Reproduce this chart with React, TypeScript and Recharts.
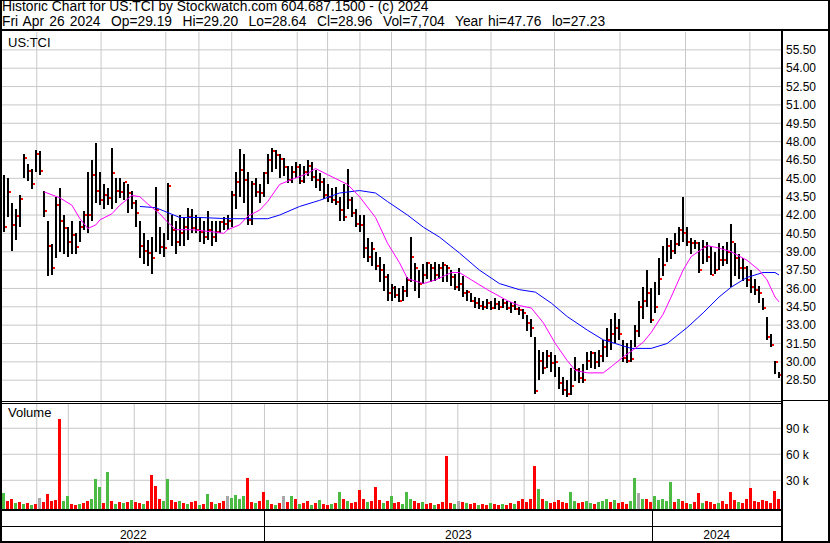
import React from 'react';
import { ComposedChart, Bar, Line, XAxis, YAxis, CartesianGrid } from 'recharts';

const FONT = '"Liberation Sans", Arial, Helvetica, sans-serif';

// ---- price bars (one bar per ~2.6 trading days, late Apr 2022 .. Apr 26 2024)
const hi = [
  45.3, 45.0, 43.0, 42.5, 43.6, 47.0, 46.2, 45.8, 47.3, 47.2,
  44.0, 41.5, 39.6, 43.5, 44.2, 42.0, 41.0, 41.5, 40.5, 41.5,
  42.3, 45.5, 46.5, 47.9, 45.5, 44.5, 44.2, 47.5, 45.0, 45.0,
  44.7, 44.5, 44.0, 43.2, 41.5, 40.5, 40.0, 40.2, 44.3, 41.0,
  40.5, 44.6, 42.0, 41.5, 42.0, 41.8, 42.6, 42.5, 42.0, 41.8,
  41.5, 42.3, 41.5, 41.5, 41.5, 41.8, 42.0, 44.0, 45.5, 47.4,
  47.0, 45.5, 44.8, 45.0, 44.5, 45.5, 47.0, 47.5, 47.3, 47.0,
  46.7, 46.0, 46.0, 46.3, 46.2, 46.0, 46.5, 46.3, 45.7, 45.4,
  45.0, 44.5, 44.2, 44.3, 43.5, 44.5, 45.8, 43.5, 42.5, 42.0,
  42.0, 40.1, 39.8, 39.0, 38.6, 38.0, 37.2, 36.4, 36.2, 36.0,
  36.2, 36.9, 40.2, 38.1, 37.5, 38.0, 38.2, 38.0, 38.2, 38.0,
  38.2, 37.9, 37.5, 37.2, 37.7, 37.0, 35.9, 35.6, 35.3, 35.2,
  35.0, 35.1, 35.0, 35.2, 35.0, 35.1, 35.0, 34.9, 35.0, 34.5,
  34.3, 33.8, 33.5, 32.0, 31.0, 30.8, 31.0, 30.8, 30.6, 29.6,
  28.8, 28.5, 29.5, 30.4, 29.5, 29.8, 30.8, 30.9, 30.8, 31.0,
  31.8, 32.8, 33.5, 34.0, 33.5, 31.8, 31.5, 31.8, 33.0, 35.0,
  36.1, 37.5, 36.0, 36.5, 38.5, 39.5, 40.1, 40.0, 40.5, 41.0,
  43.5, 41.0, 40.1, 40.0, 39.8, 40.0, 39.8, 39.5, 39.0, 39.7,
  39.5, 39.8, 41.3, 39.7, 38.8, 38.5, 37.8, 37.5, 36.8, 36.2,
  35.2, 33.7, 32.3, 30.1, 29.2,
];
const lo = [
  40.6, 41.8, 39.1, 40.0, 41.0, 45.0, 44.8, 44.1, 45.5, 45.3,
  41.8, 37.0, 37.1, 38.5, 39.0, 38.8, 38.6, 38.8, 38.8, 39.8,
  40.8, 40.5, 41.5, 43.0, 42.8, 42.5, 42.8, 42.5, 43.0, 43.4,
  43.2, 42.2, 42.5, 41.0, 38.5, 38.0, 37.8, 37.2, 39.0, 38.8,
  38.6, 40.0, 39.5, 38.8, 39.5, 39.5, 40.0, 40.5, 40.5, 39.8,
  39.6, 40.0, 39.5, 39.8, 40.5, 40.8, 40.8, 41.0, 42.5, 43.5,
  43.0, 41.2, 41.2, 43.5, 43.0, 43.5, 44.5, 45.5, 45.8, 45.0,
  45.2, 44.6, 44.6, 45.0, 44.5, 44.6, 45.2, 44.8, 44.2, 44.0,
  43.3, 43.1, 43.0, 42.8, 41.5, 41.5, 42.5, 41.8, 41.0, 40.6,
  38.5, 38.2, 37.8, 37.5, 36.5, 35.8, 35.0, 35.0, 35.2, 34.9,
  35.0, 35.3, 36.5, 35.8, 35.2, 36.4, 36.8, 36.5, 36.6, 36.8,
  36.5, 36.5, 36.2, 35.9, 35.8, 35.3, 35.0, 34.9, 34.4, 34.3,
  34.2, 34.3, 34.2, 34.3, 34.2, 34.4, 34.2, 34.0, 34.2, 33.8,
  33.5, 32.5, 32.0, 27.4, 28.5, 29.0, 29.5, 29.2, 28.8, 27.8,
  27.3, 27.1, 27.3, 28.4, 28.3, 28.3, 29.3, 29.5, 29.4, 29.6,
  30.0, 30.4, 31.0, 31.5, 31.8, 30.0, 29.9, 30.0, 31.2, 32.0,
  33.5, 34.5, 33.2, 34.0, 35.5, 37.0, 38.2, 38.4, 38.8, 39.5,
  39.8, 39.5, 38.8, 39.2, 37.3, 38.0, 38.2, 37.1, 37.2, 37.5,
  37.8, 38.0, 36.1, 37.0, 36.8, 36.6, 36.1, 35.6, 35.5, 34.8,
  34.2, 31.8, 31.2, 29.0, 28.64,
];
const cl = [
  41.0, 43.9, 41.2, 41.9, 43.3, 46.7, 45.6, 44.5, 47.0, 45.6,
  42.3, 39.5, 37.7, 42.8, 41.5, 40.9, 39.8, 40.4, 39.4, 41.0,
  42.0, 42.0, 45.3, 44.0, 43.2, 43.6, 43.4, 45.4, 44.0, 43.9,
  44.7, 43.8, 43.0, 42.2, 39.5, 39.1, 38.9, 38.5, 42.4, 39.4,
  39.3, 44.4, 40.8, 39.8, 40.5, 41.0, 41.8, 40.9, 40.8, 40.6,
  40.2, 40.8, 40.2, 40.6, 41.4, 41.3, 41.5, 43.6, 44.7, 45.7,
  44.9, 41.6, 44.5, 43.9, 43.8, 45.4, 46.5, 47.2, 46.9, 46.6,
  45.9, 44.9, 45.5, 45.9, 44.8, 45.5, 46.0, 45.1, 44.9, 44.7,
  43.6, 43.5, 43.2, 43.1, 42.4, 41.8, 43.2, 42.2, 41.3, 41.2,
  39.3, 38.6, 39.2, 37.8, 37.5, 36.9, 35.6, 36.0, 35.5, 35.0,
  35.8, 36.7, 38.6, 37.7, 36.4, 37.1, 38.1, 37.7, 37.1, 37.7,
  37.9, 37.7, 36.9, 36.1, 36.4, 35.6, 35.7, 35.0, 34.8, 34.6,
  34.5, 34.8, 34.4, 34.7, 34.5, 34.8, 34.4, 34.6, 34.3, 34.2,
  34.0, 33.2, 32.8, 27.6, 30.1, 29.5, 30.5, 29.9, 30.0, 28.3,
  27.7, 27.4, 28.0, 29.3, 28.7, 28.5, 30.1, 30.7, 30.0, 30.5,
  31.2, 31.8, 32.3, 32.8, 32.3, 30.3, 30.1, 30.2, 32.5, 34.5,
  35.0, 35.6, 33.4, 34.5, 36.8, 37.9, 39.5, 39.1, 39.6, 40.8,
  40.5, 39.8, 39.7, 39.7, 37.5, 39.4, 38.6, 37.1, 37.5, 38.3,
  38.3, 39.0, 39.8, 38.5, 37.7, 37.7, 36.7, 36.1, 35.9, 35.6,
  34.4, 32.0, 31.4, 30.0, 28.96,
];

// ---- moving averages (bar index -> value)
const ma20Idx = [10, 14, 17, 19, 21, 23, 24, 27, 29, 32, 34, 36, 39, 41, 43, 47, 53, 55, 56, 59, 61, 64, 66, 69, 72, 76, 78, 81, 86, 89, 93, 96, 99, 101, 105, 108, 112, 114, 117, 121, 126, 129, 132, 135, 138, 141, 143, 146, 150, 152, 155, 158, 160, 162, 165, 167, 170, 172, 176, 179, 182, 186, 189, 191, 193, 194];
const ma20Val = [43.9, 43.4, 42.8, 41.7, 40.9, 41.2, 41.6, 42.1, 42.8, 43.6, 43.5, 42.9, 42.1, 41.4, 40.8, 40.8, 40.6, 40.5, 40.8, 41.2, 41.9, 42.4, 43.1, 44.5, 44.9, 45.4, 45.8, 45.3, 44.5, 43.5, 41.8, 39.7, 38.1, 36.8, 36.4, 36.7, 37.3, 37.3, 36.7, 35.9, 35.0, 34.6, 34.4, 33.2, 31.5, 30.1, 29.3, 29.1, 29.1, 29.6, 30.4, 31.1, 31.6, 32.4, 33.9, 35.3, 37.5, 38.6, 39.5, 39.3, 39.0, 38.3, 37.5, 36.7, 35.3, 34.9];
const ma50Idx = [34, 38, 41, 44, 49, 56, 66, 69, 74, 79, 84, 89, 93, 96, 101, 105, 109, 114, 119, 124, 129, 133, 137, 141, 146, 150, 154, 157, 162, 166, 171, 175, 179, 182, 186, 190, 193, 194];
const ma50Val = [42.7, 42.6, 42.2, 41.8, 41.8, 41.7, 41.7, 42.0, 42.7, 43.2, 43.8, 44.0, 43.8, 43.1, 42.0, 41.0, 40.2, 38.9, 37.5, 36.4, 35.9, 35.7, 34.8, 33.7, 32.6, 31.8, 31.4, 31.1, 31.1, 31.5, 32.8, 34.0, 35.3, 36.1, 36.9, 37.3, 37.3, 37.1];

// ---- volume (thousands) and colour code: r = down, g = up, n = unchanged
const volK = [
  15, 6, 8, 4, 5, 3, 4, 2, 3, 10, 5, 14, 6, 7, 101, 6, 12, 3, 2, 3,
  4, 6, 8, 32, 22, 4, 39, 6, 3, 5, 4, 5, 7, 5, 4, 3, 6, 36, 23, 9,
  6, 32, 7, 5, 6, 4, 3, 5, 6, 2, 3, 14, 5, 3, 4, 6, 12, 10, 13, 9,
  12, 33, 5, 4, 6, 17, 7, 3, 2, 4, 12, 5, 12, 8, 3, 4, 6, 2, 4, 7,
  3, 2, 3, 4, 16, 8, 6, 4, 5, 19, 8, 5, 6, 22, 7, 4, 6, 12, 4, 5,
  3, 16, 9, 6, 4, 5, 3, 4, 2, 3, 5, 58, 4, 3, 6, 5, 4, 3, 4, 2,
  3, 2, 4, 3, 2, 3, 2, 4, 3, 6, 9, 5, 8, 47, 20, 8, 6, 4, 5, 7,
  5, 4, 17, 6, 4, 5, 6, 4, 3, 5, 6, 8, 5, 7, 4, 5, 3, 6, 33, 15,
  8, 9, 5, 12, 7, 9, 6, 28, 5, 8, 6, 4, 3, 5, 15, 4, 6, 5, 3, 4,
  6, 3, 16, 7, 5, 4, 8, 21, 6, 5, 7, 6, 4, 18, 8,
];
const volDir = [
  'g', 'r', 'r', 'g', 'r', 'g', 'r', 'g', 'r', 'n', 'r', 'r', 'r', 'r', 'r', 'g', 'g', 'r', 'r', 'g',
  'r', 'r', 'g', 'g', 'g', 'r', 'g', 'r', 'g', 'r', 'g', 'r', 'g', 'r', 'r', 'g', 'r', 'r', 'r', 'r',
  'g', 'g', 'r', 'r', 'g', 'r', 'g', 'r', 'r', 'g', 'r', 'g', 'r', 'g', 'r', 'r', 'n', 'g', 'g', 'g',
  'g', 'r', 'r', 'g', 'r', 'r', 'g', 'r', 'g', 'r', 'n', 'r', 'g', 'r', 'g', 'r', 'r', 'g', 'r', 'g',
  'r', 'r', 'g', 'r', 'g', 'r', 'g', 'r', 'r', 'r', 'r', 'g', 'r', 'r', 'r', 'g', 'r', 'g', 'r', 'r',
  'g', 'g', 'g', 'r', 'r', 'g', 'r', 'r', 'g', 'r', 'r', 'r', 'r', 'g', 'n', 'r', 'g', 'r', 'r', 'g',
  'r', 'r', 'g', 'r', 'r', 'g', 'r', 'r', 'g', 'r', 'r', 'r', 'r', 'r', 'g', 'r', 'g', 'r', 'r', 'r',
  'r', 'r', 'g', 'g', 'r', 'r', 'g', 'g', 'r', 'g', 'g', 'g', 'r', 'g', 'r', 'r', 'r', 'g', 'g', 'n',
  'g', 'r', 'r', 'g', 'g', 'g', 'g', 'g', 'r', 'g', 'r', 'r', 'g', 'r', 'r', 'g', 'r', 'r', 'r', 'g',
  'r', 'r', 'r', 'r', 'g', 'r', 'r', 'r', 'r', 'r', 'r', 'r', 'r', 'r', 'r',
];

// ---- axes
const priceTicks = [28.5, 30, 31.5, 33, 34.5, 36, 37.5, 39, 40.5, 42, 43.5, 45, 46.5, 48, 49.5, 51, 52.5, 54, 55.5];
const volTicks = [30000, 60000, 90000];
const monthStarts = [8.2, 16.1, 24.3, 32.6, 40.5, 48.8, 57.0, 65.2, 73.4, 81.0, 89.1, 97.0, 105.6, 113.6, 121.9, 130.2, 137.8, 146.3, 154.2, 162.3, 170.6, 178.8, 186.7];
const yearLabels = ['2022', '2023', '2024'];
const yearBounds = [65.2, 162.3];
const X_DOMAIN: [number, number] = [-0.5, hi.length - 0.5];
const yearEdges = [X_DOMAIN[0], ...yearBounds, X_DOMAIN[1]];
const yearMids = yearLabels.map((_, k) => (yearEdges[k] + yearEdges[k + 1]) / 2);

const VOL_COLORS: Record<string, string> = { r: '#ff0000', g: '#4cbb44', n: '#a8a8a8' };

type Row = { i: number; hl: [number, number]; c: number; v: number; vc: string; ma20?: number; ma50?: number };
const rows: Row[] = hi.map((h, i) => ({ i, hl: [lo[i], h], c: cl[i], v: volK[i] * 1000, vc: volDir[i] }));
ma20Idx.forEach((k, j) => { rows[k].ma20 = ma20Val[j]; });
ma50Idx.forEach((k, j) => { rows[k].ma50 = ma50Val[j]; });

function PriceBar(props: any) {
  const { x, y, width, height, payload } = props;
  if (x == null || y == null || !payload) return null;
  const top = Math.min(y, y + height);
  const h = Math.max(Math.abs(height), 1);
  const [l, hh] = payload.hl;
  const cy = hh === l ? top : top + ((hh - payload.c) / (hh - l)) * h;
  const rx = Math.round(x);
  const rt = Math.round(top);
  const rw = Math.max(Math.round(width), 1);
  return (
    <g shapeRendering="crispEdges">
      <rect x={rx} y={rt} width={rw} height={Math.max(Math.round(top + h) - rt, 1)} fill="#000" />
      <rect x={rx + rw} y={Math.round(cy) - 1} width={2} height={2} fill="#ff0000" />
    </g>
  );
}

function VolBar(props: any) {
  const { x, y, width, height, payload, background } = props;
  if (x == null || y == null || !payload) return null;
  const top = Math.round(Math.min(y, y + height));
  const bottom = background && background.height ? background.y + background.height : Math.max(y, y + height);
  return (
    <rect
      shapeRendering="crispEdges"
      x={Math.round(x)}
      y={top}
      width={Math.max(Math.round(width), 1)}
      height={Math.max(Math.round(bottom) - top, 0)}
      fill={VOL_COLORS[payload.vc]}
    />
  );
}

function YearTick(props: any) {
  const { x, y, payload } = props;
  const v = payload.value;
  if (yearBounds.indexOf(v) >= 0) {
    const xx = Math.round(x) + 0.5;
    return <line x1={xx} x2={xx} y1={y} y2={y + 33} stroke="#000" strokeWidth={1} />;
  }
  const k = yearMids.indexOf(v);
  return (
    <text x={x} y={y + 30} textAnchor="middle" fontSize={12} fontFamily={FONT} fill="#000">
      {yearLabels[k]}
    </text>
  );
}

const axisTick = { fill: '#000', fontSize: 12, fontFamily: FONT };

function Rule({ l, t, w, h }: { l: number; t: number; w: number; h: number }) {
  return <div style={{ position: 'absolute', left: l, top: t, width: w, height: h, background: '#000' }} />;
}

const headStyle: React.CSSProperties = { position: 'absolute', left: 2, fontSize: 13.8, lineHeight: '13px', whiteSpace: 'pre', color: '#000' };

export default function App() {
  return (
    <div style={{ position: 'absolute', left: 0, top: 0, width: 830, height: 543, background: '#fff', overflow: 'hidden', fontFamily: FONT }}>
      <div style={{ ...headStyle, top: 0 }}>
        Historic Chart for US:TCI by Stockwatch.com 604.687.1500 - (c) 2024
      </div>
      <div style={{ ...headStyle, top: 15, wordSpacing: '1.4px' }}>
        {'Fri Apr 26 2024  Op=29.19  Hi=29.20  Lo=28.64  Cl=28.96  Vol=7,704  Year hi=47.76  lo=27.23'}
      </div>

      <div style={{ position: 'absolute', left: 0, top: 32 }}>
        <ComposedChart width={830} height={369} data={rows} margin={{ top: 0, right: 0, bottom: 0, left: 2 }}>
          <CartesianGrid stroke="#c8c8c8" verticalValues={monthStarts} horizontalValues={priceTicks} />
          <XAxis type="number" dataKey="i" domain={X_DOMAIN} hide allowDataOverflow />
          <YAxis
            orientation="right"
            width={49}
            domain={[26.8, 56.96]}
            ticks={priceTicks}
            interval={0}
            allowDataOverflow
            tickFormatter={(v: number) => v.toFixed(2)}
            axisLine={false}
            tickLine={false}
            tickSize={0}
            tickMargin={5}
            tick={axisTick}
          />
          <Bar dataKey="hl" barSize={2} shape={(p: any) => <PriceBar {...p} />} isAnimationActive={false} />
          <Line type="linear" dataKey="ma50" stroke="#0000ff" strokeWidth={1} dot={false} connectNulls isAnimationActive={false} />
          <Line type="linear" dataKey="ma20" stroke="#ff00ff" strokeWidth={1} dot={false} connectNulls isAnimationActive={false} />
        </ComposedChart>
      </div>

      <div style={{ position: 'absolute', left: 0, top: 404 }}>
        <ComposedChart width={830} height={139} data={rows} margin={{ top: 0, right: 0, bottom: 0, left: 2 }}>
          <CartesianGrid stroke="#c8c8c8" verticalValues={monthStarts} horizontalValues={volTicks} />
          <XAxis
            type="number"
            dataKey="i"
            domain={X_DOMAIN}
            allowDataOverflow
            ticks={[yearMids[0], yearBounds[0], yearMids[1], yearBounds[1], yearMids[2]]}
            interval={0}
            height={34}
            axisLine={false}
            tickLine={false}
            tickSize={0}
            tickMargin={0}
            tick={(p: any) => <YearTick {...p} />}
          />
          <YAxis
            orientation="right"
            width={49}
            domain={[-3100, 118000]}
            ticks={volTicks}
            interval={0}
            allowDataOverflow
            tickFormatter={(v: number) => `${v / 1000} k`}
            axisLine={false}
            tickLine={false}
            tickSize={0}
            tickMargin={5}
            tick={axisTick}
          />
          <Bar dataKey="v" barSize={3} shape={(p: any) => <VolBar {...p} />} isAnimationActive={false} />
        </ComposedChart>
      </div>

      <div style={{ position: 'absolute', left: 8, top: 36, fontSize: 13, lineHeight: '13px', color: '#000' }}>US:TCI</div>
      <div style={{ position: 'absolute', left: 8, top: 406, fontSize: 13, lineHeight: '13px', color: '#000' }}>Volume</div>

      <Rule l={0} t={0} w={830} h={1} />
      <Rule l={0} t={0} w={2} h={543} />
      <Rule l={828} t={0} w={2} h={543} />
      <Rule l={0} t={541} w={830} h={2} />
      <Rule l={0} t={29} w={830} h={2} />
      <Rule l={781} t={29} w={2} h={514} />
      <Rule l={0} t={401} w={781} h={1} />
      <Rule l={0} t={403} w={781} h={1} />
      <Rule l={783} t={400} w={45} h={1} />
      <Rule l={0} t={509} w={781} h={2} />
      <Rule l={0} t={526} w={781} h={1} />
    </div>
  );
}
